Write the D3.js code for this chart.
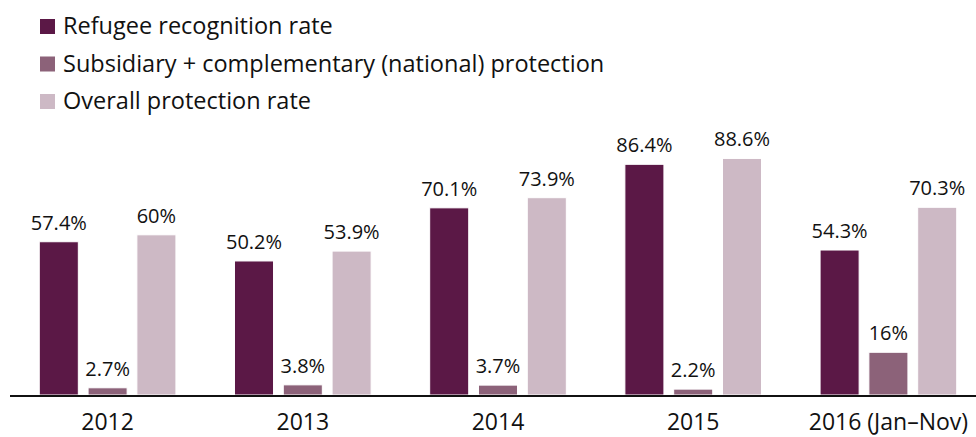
<!DOCTYPE html>
<html>
<head>
<meta charset="utf-8">
<script src="https://cdn.jsdelivr.net/npm/d3@7"></script>
<style>
  html, body { margin: 0; padding: 0; background: #ffffff; }
  svg { display: block; }
  text { font-family: "Open Sans", "DejaVu Sans", sans-serif; fill: #111111; }
</style>
</head>
<body>
<svg id="chart" width="976" height="437"></svg>
<script>
// Asylum protection rates by year
const years = ["2012", "2013", "2014", "2015", "2016 (Jan\u2013Nov)"];
const seriesNames = [
  "Refugee recognition rate",
  "Subsidiary + complementary (national) protection",
  "Overall protection rate"
];
const refugeeRate = [57.4, 50.2, 70.1, 86.4, 54.3];
const subsidiaryRate = [2.7, 3.8, 3.7, 2.2, 16];
const overallRate = [60, 53.9, 73.9, 88.6, 70.3];
const valueLabels = [
  ["57.4%", "50.2%", "70.1%", "86.4%", "54.3%"],
  ["2.7%", "3.8%", "3.7%", "2.2%", "16%"],
  ["60%", "53.9%", "73.9%", "88.6%", "70.3%"]
];
const colors = ["#5b1846", "#8c6279", "#cdb9c5"];

const seriesValues = [refugeeRate, subsidiaryRate, overallRate];

const svg = d3.select("#chart");
const axisY = 395;

const x0 = d3.scaleBand()
  .domain(years)
  .range([10, 986])
  .paddingInner(0.3)
  .paddingOuter(0.15);

const x1 = d3.scaleBand()
  .domain(d3.range(seriesNames.length))
  .range([0, x0.bandwidth()])
  .paddingInner(0.2);

const y = d3.scaleLinear()
  .domain([0, 100])
  .range([axisY, axisY - 267]);

// Flatten into one record per bar
const bars = [];
seriesValues.forEach((vals, s) => {
  vals.forEach((v, i) => {
    bars.push({ year: years[i], series: s, value: v, label: valueLabels[s][i] });
  });
});

const g = svg.append("g");

g.selectAll("rect.bar")
  .data(bars)
  .join("rect")
  .attr("class", "bar")
  .attr("x", d => x0(d.year) + x1(d.series))
  .attr("y", d => y(d.value))
  .attr("width", x1.bandwidth())
  .attr("height", d => y(0) - y(d.value))
  .attr("fill", d => colors[d.series])
  .attr("stroke", "#ffffff")
  .attr("stroke-width", 1);

g.selectAll("text.value")
  .data(bars)
  .join("text")
  .attr("class", "value")
  .attr("x", d => x0(d.year) + x1(d.series) + x1.bandwidth() / 2)
  .attr("y", d => y(d.value) - 12)
  .attr("text-anchor", "middle")
  .style("font-size", "20px")
  .text(d => d.label);

// Category axis
const xAxis = d3.axisBottom(x0).tickSize(0).tickPadding(0);
const axisG = svg.append("g")
  .attr("transform", `translate(0,${axisY})`)
  .call(xAxis);
axisG.select(".domain").remove();
axisG.selectAll("text")
  .attr("y", 35)
  .attr("dy", 0)
  .style("font-size", "23px")
  .style("font-family", "\"Open Sans\", sans-serif")
  .attr("fill", "#111111");

svg.append("line")
  .attr("x1", 10)
  .attr("x2", 976)
  .attr("y1", axisY + 1)
  .attr("y2", axisY + 1)
  .attr("stroke", "#111111")
  .attr("stroke-width", 2);

// Legend
const legend = svg.append("g")
  .selectAll("g")
  .data(seriesNames)
  .join("g")
  .attr("transform", (d, i) => `translate(40,${19 + i * 37.5})`);

legend.append("rect")
  .attr("width", 15)
  .attr("height", 15)
  .attr("fill", (d, i) => colors[i]);

legend.append("text")
  .attr("x", 23)
  .attr("y", 15)
  .style("font-size", "23.5px")
  .text(d => d);
</script>
</body>
</html>
